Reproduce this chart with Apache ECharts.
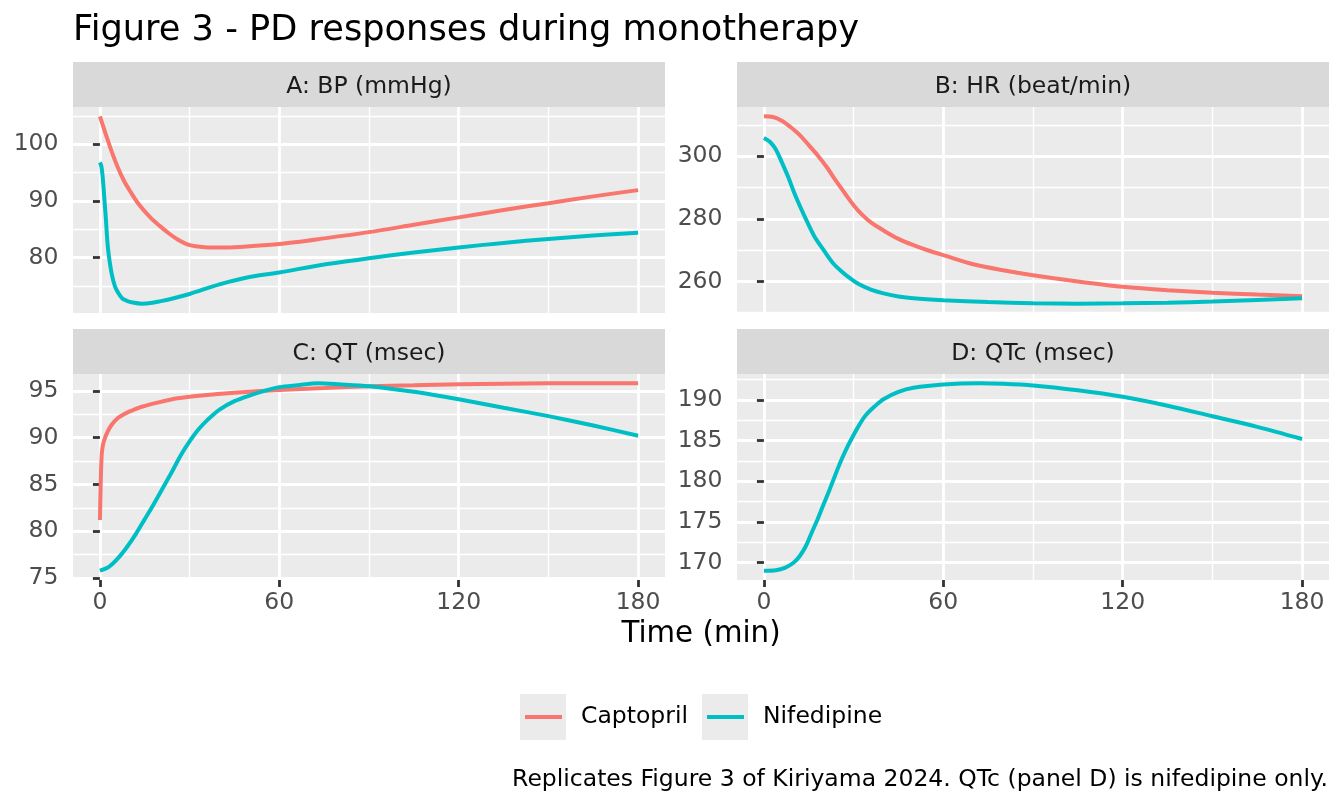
<!DOCTYPE html>
<html>
<head>
<meta charset="utf-8">
<script src="https://cdn.jsdelivr.net/npm/echarts@6/dist/echarts.min.js"></script>
<style>
html, body { margin: 0; padding: 0; background: #fff; }
#main { width: 1344px; height: 806px; }
</style>
</head>
<body>
<div id="main"></div>
<script>
var FONT = '"DejaVu Sans"';
var CAP = '#F8766D', NIF = '#00BFC4';

// [time (min), value]
var bpCaptopril = [[0,104.9],[2,101.7],[4,98.6],[6,95.9],[8,93.6],[10,91.8],[13,89.4],[17,87.0],[20,85.6],
  [23,84.3],[26,83.2],[29,82.4],[32,82.0],[36,81.8],[42,81.8],[50,82.0],[60,82.4],[75,83.4],[90,84.5],
  [105,85.8],[120,87.1],[135,88.4],[150,89.6],[165,90.8],[180,91.9]];
var bpNifedipine = [[0,96.8],[0.5,96.1],[1,93.8],[1.5,90.3],[2,86.8],[2.5,82.8],[3,80.3],[4,77.0],[5,75.0],
  [6,73.9],[7.5,72.8],[9,72.4],[11,72.1],[14,71.9],[17,72.0],[20,72.3],[25,72.9],[30,73.6],[40,75.3],
  [50,76.6],[60,77.4],[75,78.8],[90,79.9],[105,80.9],[120,81.8],[135,82.6],[150,83.3],[165,83.9],[180,84.4]];
var hrCaptopril = [[0,312.8],[3,312.6],[6,311.4],[9,309.3],[12,306.8],[15,303.6],[18,300.3],[21,296.6],
  [24,292.3],[27,288.3],[30,284.4],[33,281.2],[36,278.7],[40,276.3],[45,273.6],[50,271.6],[55,269.9],
  [60,268.4],[70,265.5],[80,263.6],[90,262.0],[105,260.0],[120,258.3],[135,257.2],[150,256.4],[165,255.8],[180,255.3]];
var hrNifedipine = [[0,305.9],[2,304.7],[4,302.2],[6,298.1],[8,293.7],[10,288.7],[12,284.2],[14,280.0],
  [17,274.2],[20,270.0],[23,266.0],[26,263.2],[29,260.9],[32,259.0],[36,257.3],[40,256.2],[45,255.2],
  [50,254.6],[60,254.0],[75,253.4],[90,253.0],[105,252.9],[120,253.0],[135,253.2],[150,253.6],[165,254.1],[180,254.6]];
var qtCaptopril = [[0,81.2],[0.3,85.5],[0.6,88.2],[1,89.2],[1.5,89.8],[2.5,90.6],[4,91.4],[6,92.1],[8,92.5],
  [10,92.8],[14,93.3],[20,93.8],[26,94.2],[34,94.5],[45,94.8],[60,95.1],[75,95.3],[90,95.5],[105,95.6],
  [120,95.7],[150,95.8],[180,95.8]];
var qtNifedipine = [[0,75.8],[3,76.2],[6,77.1],[9,78.3],[12,79.7],[15,81.3],[18,82.9],[21,84.6],[24,86.3],
  [27,88.1],[30,89.6],[33,90.9],[36,91.9],[40,93.0],[45,93.9],[50,94.5],[55,95.0],[60,95.4],[66,95.6],
  [73,95.8],[80,95.7],[90,95.5],[105,94.9],[120,94.1],[135,93.2],[150,92.3],[165,91.3],[180,90.2]];
var qtcNifedipine = [[0,169.0],[4,169.06],[7,169.35],[10,170.0],[12,170.8],[14,172.0],[16,173.7],[18,175.35],
  [20,177.2],[22,179.0],[24,180.9],[26,182.7],[28,184.3],[30,185.7],[32,187.0],[34,188.1],[37,189.2],
  [40,190.1],[45,191.0],[50,191.5],[60,191.9],[72,192.05],[80,192.0],[90,191.8],[105,191.2],[120,190.4],
  [135,189.3],[150,188.0],[165,186.7],[180,185.2]];

var xTicks = [0, 60, 120, 180];
var bpTicks = [80, 90, 100];
var hrTicks = [260, 280, 300];
var qtTicks = [75, 80, 85, 90, 95];
var qtcTicks = [170, 175, 180, 185, 190];
var panelTitles = ['A: BP (mmHg)', 'B: HR (beat/min)', 'C: QT (msec)', 'D: QTc (msec)'];

var PW = 592, PH = 206, STRIP = 45;
var panels = [
  { left: 73, top: 107, ticks: bpTicks, step: 10, data: [bpCaptopril, bpNifedipine] },
  { left: 737, top: 107, ticks: hrTicks, step: 20, data: [hrCaptopril, hrNifedipine] },
  { left: 73, top: 374, ticks: qtTicks, step: 5, data: [qtCaptopril, qtNifedipine] },
  { left: 737, top: 374, ticks: qtcTicks, step: 5, data: [null, qtcNifedipine] }
];

// ggplot-style 5% expansion of the data range
function range(list) {
  var lo = Infinity, hi = -Infinity;
  list.forEach(function (d) {
    if (!d) return;
    d.forEach(function (p) { lo = Math.min(lo, p[1]); hi = Math.max(hi, p[1]); });
  });
  var pad = (hi - lo) * 0.05;
  return [lo - pad, hi + pad];
}

var SMALL = 23.5;
var grids = [], xAxes = [], yAxes = [], series = [], graphics = [];
var tickStyle = { color: '#333333', width: 2.8 };
var labelStyle = { color: '#4D4D4D', fontSize: SMALL, fontFamily: FONT };
var majorGrid = { show: true, lineStyle: { color: '#FFFFFF', width: 2.8 } };
var minorGrid = { show: true, lineStyle: { color: '#FFFFFF', width: 1.4 } };

panels.forEach(function (p, i) {
  var bottomRow = i >= 2;
  var r = range(p.data);
  grids.push({
    left: p.left, top: p.top, width: PW, height: PH,
    show: true, backgroundColor: '#EBEBEB', borderWidth: 0,
    outerBoundsMode: 'none'
  });
  xAxes.push({
    gridIndex: i, type: 'value', min: -9, max: 189, minInterval: 60, maxInterval: 60,
    axisLine: { show: false },
    axisTick: { show: bottomRow, length: 7, lineStyle: tickStyle, customValues: xTicks },
    axisLabel: Object.assign({ show: bottomRow, margin: 11, customValues: xTicks }, labelStyle),
    splitLine: majorGrid,
    minorTick: { show: false, splitNumber: 2 },
    minorSplitLine: minorGrid
  });
  yAxes.push({
    gridIndex: i, type: 'value', min: r[0], max: r[1], minInterval: p.step, maxInterval: p.step,
    axisLine: { show: false },
    axisTick: { show: true, length: 7, lineStyle: tickStyle, customValues: p.ticks },
    axisLabel: Object.assign({ margin: 14.5, customValues: p.ticks }, labelStyle),
    splitLine: majorGrid,
    minorTick: { show: false, splitNumber: 2 },
    minorSplitLine: minorGrid
  });
  ['Captopril', 'Nifedipine'].forEach(function (name, k) {
    if (!p.data[k]) return;
    var c = k === 0 ? CAP : NIF;
    series.push({
      type: 'line', name: name, xAxisIndex: i, yAxisIndex: i, data: p.data[k],
      showSymbol: false, symbol: 'none', smooth: 0.3,
      lineStyle: { width: 4, color: c }, itemStyle: { color: c }, z: 3 + k
    });
  });
  // facet strip
  graphics.push({
    type: 'rect', z: 1,
    shape: { x: p.left, y: p.top - STRIP, width: PW, height: STRIP },
    style: { fill: '#D9D9D9' }
  });
  graphics.push({
    type: 'text', z: 2,
    style: {
      text: panelTitles[i], x: p.left + PW / 2, y: p.top - 20,
      font: SMALL + 'px ' + FONT, fill: '#1A1A1A',
      align: 'center', verticalAlign: 'middle', textAlign: 'center', textVerticalAlign: 'middle'
    }
  });
});

function label(text, x, y, size, align) {
  return {
    type: 'text', z: 2,
    style: {
      text: text, x: x, y: y, font: size + 'px ' + FONT, fill: '#000000',
      align: align, verticalAlign: 'middle', textAlign: align, textVerticalAlign: 'middle'
    }
  };
}
graphics.push(label('Figure 3 - PD responses during monotherapy', 73, 31, 35.2, 'left'));
graphics.push(label('Time (min)', 701, 634.5, 29.3, 'center'));
graphics.push(label('Replicates Figure 3 of Kiriyama 2024. QTc (panel D) is nifedipine only.', 1328, 779.5, SMALL, 'right'));
// legend key backgrounds
graphics.push({ type: 'rect', z: 0, shape: { x: 520, y: 694, width: 46, height: 46 }, style: { fill: '#EBEBEB' } });
graphics.push({ type: 'rect', z: 0, shape: { x: 702, y: 694, width: 46, height: 46 }, style: { fill: '#EBEBEB' } });

function legend(name, left) {
  return {
    data: [name], left: left, top: 705, padding: 0, z: 5,
    icon: 'rect', itemWidth: 37, itemHeight: 4,
    textStyle: { fontSize: SMALL, fontFamily: FONT, color: '#000000', padding: [0, 0, 0, 14] }
  };
}

var myChart = echarts.init(document.getElementById('main'));
myChart.setOption({
  animation: false,
  backgroundColor: '#FFFFFF',
  legend: [legend('Captopril', 525), legend('Nifedipine', 707)],
  grid: grids,
  xAxis: xAxes,
  yAxis: yAxes,
  series: series,
  graphic: graphics
});
</script>
</body>
</html>
